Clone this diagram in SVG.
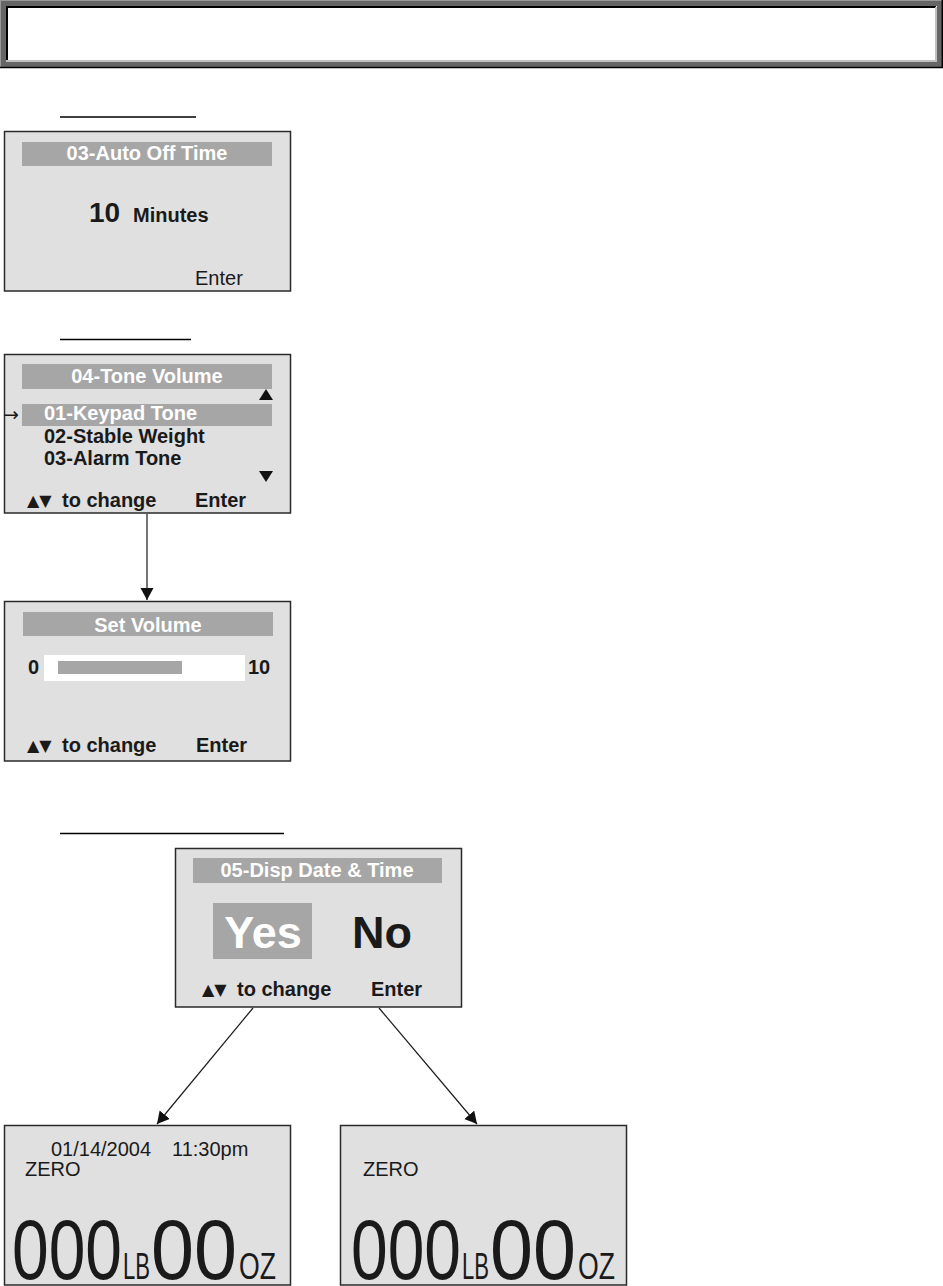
<svg xmlns="http://www.w3.org/2000/svg" width="943" height="1286" viewBox="0 0 943 1286">
<style>
.scr{fill:#e0e0e0;stroke:#2a2a2a;stroke-width:1.5}
.bar{fill:#a6a6a6}
.t{font-family:"Liberation Sans",Arial,sans-serif;font-size:20px;fill:#1a1a1a}
.b{font-weight:bold}
.w{fill:#ffffff}
.sym{font-family:"DejaVu Sans",sans-serif;font-size:16px;fill:#1a1a1a}
.ul{stroke:#000;stroke-width:1.5}
.con{stroke:#1a1a1a;stroke-width:1.2;fill:none}
.big{font-family:"Liberation Sans",Arial,sans-serif;fill:#1a1a1a;font-size:86px}
.sm{font-size:37px}
</style>
<defs>
<marker id="ah" markerUnits="userSpaceOnUse" markerWidth="14" markerHeight="14" refX="12" refY="6.5" orient="auto">
<path d="M0,0 L12,6.5 L0,13 z" fill="#111"/>
</marker>
</defs>
<rect width="943" height="1286" fill="#fff"/>
<g id="header">
<rect x="0" y="0" width="942" height="67" fill="#666"/>
<line x1="0" y1="0.5" x2="942" y2="0.5" stroke="#999" stroke-width="1"/>
<line x1="0.5" y1="0" x2="0.5" y2="67" stroke="#999" stroke-width="1"/>
<rect x="6" y="6" width="931" height="56" fill="#fff"/>
<line x1="6" y1="7" x2="936" y2="7" stroke="#000" stroke-width="2"/>
<line x1="7" y1="6" x2="7" y2="62" stroke="#000" stroke-width="2"/>
<line x1="6" y1="61" x2="937" y2="61" stroke="#c0c0c0" stroke-width="2"/>
<line x1="936" y1="7" x2="936" y2="62" stroke="#c0c0c0" stroke-width="2"/>
<line x1="0" y1="67.5" x2="943" y2="67.5" stroke="#000" stroke-width="1.5"/>
<line x1="942.3" y1="0" x2="942.3" y2="68" stroke="#000" stroke-width="1.5"/>
</g>
<g id="underlines">
<line class="ul" x1="60" y1="117" x2="196" y2="117"/>
<line class="ul" x1="60" y1="339.5" x2="191" y2="339.5"/>
<line class="ul" x1="60" y1="833.5" x2="284" y2="833.5"/>
</g>
<g id="auto-off-time">
<rect class="scr" x="4.5" y="131.5" width="286" height="159.5"/>
<rect class="bar" x="22" y="142" width="250" height="24"/>
<text class="t b w" x="147" y="160" text-anchor="middle">03-Auto Off Time</text>
<text class="t b" x="89" y="222" style="font-size:28px">10</text>
<text class="t b" x="133" y="222">Minutes</text>
<text class="t" x="195" y="285">Enter</text>
</g>
<g id="tone-volume">
<rect class="scr" x="4.5" y="354.5" width="286" height="158.5"/>
<rect class="bar" x="22" y="364" width="250" height="25"/>
<text class="t b w" x="147" y="383" text-anchor="middle">04-Tone Volume</text>
<polygon points="259,400 273,400 266,389" fill="#111"/>
<rect class="bar" x="22" y="404" width="250" height="22"/>
<text class="sym" x="3" y="421" style="font-size:19px">→</text>
<text class="t b w" x="44" y="420">01-Keypad Tone</text>
<text class="t b" x="44" y="443">02-Stable Weight</text>
<text class="t b" x="44" y="465">03-Alarm Tone</text>
<polygon points="259,471 273,471 266,482" fill="#111"/>
<text class="t b" x="27" y="506"><tspan class="sym">▲▼</tspan><tspan x="62" y="507">to change</tspan></text>
<text class="t b" x="195" y="507">Enter</text>
</g>
<g id="set-volume">
<rect class="scr" x="4.5" y="601.5" width="286" height="159.5"/>
<rect class="bar" x="23" y="612" width="250" height="24"/>
<text class="t b w" x="148" y="632" text-anchor="middle">Set Volume</text>
<rect x="44" y="655" width="201" height="26" fill="#fff"/>
<rect class="bar" x="58" y="661" width="124" height="13"/>
<text class="t b" x="28" y="674">0</text>
<text class="t b" x="248" y="674">10</text>
<text class="t b" x="27" y="751"><tspan class="sym">▲▼</tspan><tspan x="62" y="752">to change</tspan></text>
<text class="t b" x="196" y="752">Enter</text>
</g>
<g id="disp-date-time">
<rect class="scr" x="175.5" y="848.5" width="286" height="158.5"/>
<rect class="bar" x="193" y="858" width="249" height="25"/>
<text class="t b w" x="317" y="877" text-anchor="middle">05-Disp Date &amp; Time</text>
<rect class="bar" x="213" y="903" width="99" height="56"/>
<text class="t b w" x="263" y="948" text-anchor="middle" style="font-size:45px">Yes</text>
<text class="t b" x="382" y="948" text-anchor="middle" style="font-size:45px">No</text>
<text class="t b" x="202" y="995"><tspan class="sym">▲▼</tspan><tspan x="237" y="996">to change</tspan></text>
<text class="t b" x="371" y="996">Enter</text>
</g>
<g id="display-with-date">
<rect class="scr" x="4.5" y="1125.5" width="286" height="159.5"/>
<text class="t" x="51" y="1156">01/14/2004</text>
<text class="t" x="172" y="1156">11:30pm</text>
<text class="t" x="25" y="1176">ZERO</text>
<text class="big" y="1279"><tspan x="12" textLength="110" lengthAdjust="spacingAndGlyphs">000</tspan><tspan class="sm" x="123" textLength="27" lengthAdjust="spacingAndGlyphs">LB</tspan><tspan x="151" textLength="86" lengthAdjust="spacingAndGlyphs">00</tspan><tspan class="sm" x="239" textLength="37" lengthAdjust="spacingAndGlyphs">OZ</tspan></text>
</g>
<g id="display-no-date">
<rect class="scr" x="340.5" y="1125.5" width="286" height="159.5"/>
<text class="t" x="363" y="1176">ZERO</text>
<text class="big" y="1279"><tspan x="351" textLength="110" lengthAdjust="spacingAndGlyphs">000</tspan><tspan class="sm" x="462" textLength="27" lengthAdjust="spacingAndGlyphs">LB</tspan><tspan x="490" textLength="86" lengthAdjust="spacingAndGlyphs">00</tspan><tspan class="sm" x="578" textLength="37" lengthAdjust="spacingAndGlyphs">OZ</tspan></text>
</g>
<g id="connectors">
<line class="con" x1="147" y1="514" x2="147" y2="600" marker-end="url(#ah)"/>
<line class="con" x1="253" y1="1008" x2="157" y2="1124" marker-end="url(#ah)"/>
<line class="con" x1="379" y1="1008" x2="477" y2="1124" marker-end="url(#ah)"/>
</g>
</svg>
